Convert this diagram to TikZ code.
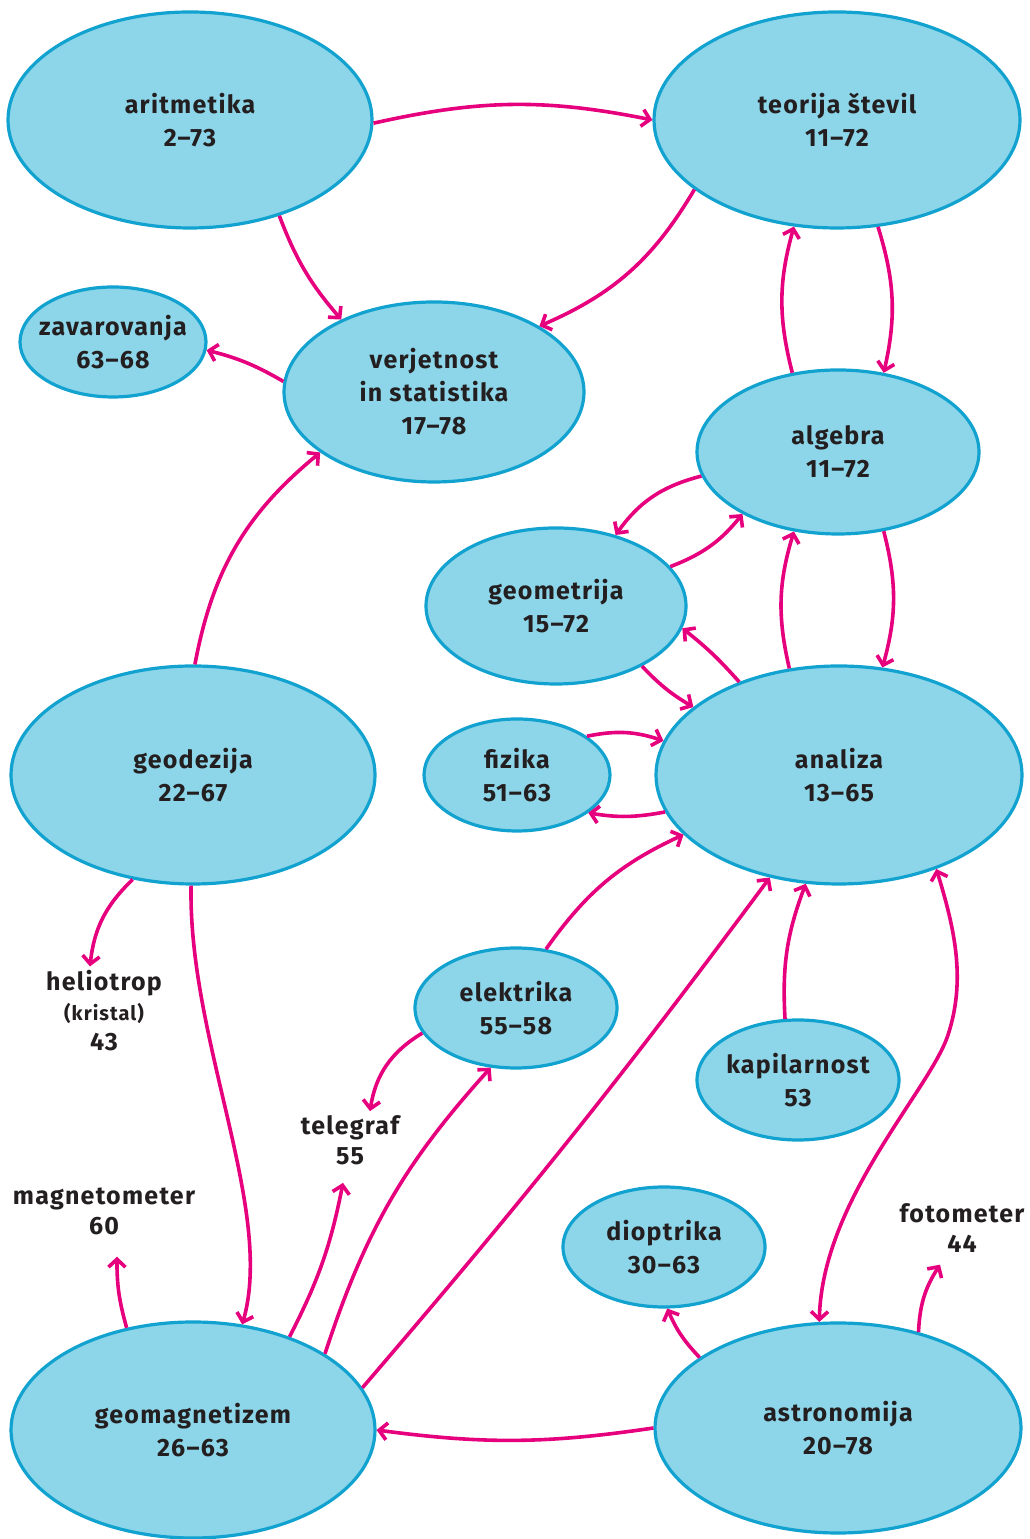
\documentclass[tikz,border=0pt]{standalone}
\usepackage{fontspec}
\setmainfont{Fira Sans}[LetterSpace=5]
\usetikzlibrary{arrows.meta,shapes.geometric}
\definecolor{fillc}{RGB}{141,213,232}
\definecolor{linec}{RGB}{18,162,208}
\definecolor{arr}{RGB}{230,0,126}
\definecolor{txt}{RGB}{35,31,32}
\begin{document}
\begin{tikzpicture}[x=1pt,y=1pt,
 topic/.style={ellipse,draw=linec,fill=fillc,line width=3.2pt,inner sep=-15pt,align=center,text=txt,font=\bfseries\fontsize{25}{33}\selectfont},
 plain/.style={align=center,text=txt,font=\bfseries\fontsize{25}{30}\selectfont,inner sep=2pt},
 barb/.tip={Straight Barb[length=8pt,width=17pt]},
 link/.style={draw=arr,line width=3.6pt,-barb}]
\useasboundingbox (0,0) rectangle (1030,1539);
\node[topic,minimum width=364pt,minimum height=216pt] (ar) at (190,1419) {aritmetika\\2–73};
\node[topic,minimum width=366pt,minimum height=216pt] (te) at (837,1419) {teorija števil\\11–72};
\node[topic,minimum width=186pt,minimum height=110pt] (za) at (113,1197) {zavarovanja\\63–68};
\node[topic,minimum width=300pt,minimum height=180pt] (ve) at (434,1147) {verjetnost\\in statistika\\17–78};
\node[topic,minimum width=282pt,minimum height=164pt] (al) at (838,1087) {algebra\\11–72};
\node[topic,minimum width=260pt,minimum height=156pt] (ge) at (556,933) {geometrija\\15–72};
\node[topic,minimum width=364pt,minimum height=218pt] (gd) at (193,764) {geodezija\\22–67};
\node[topic,minimum width=186pt,minimum height=112pt] (fi) at (517,764) {fizika\\51–63};
\node[topic,minimum width=366pt,minimum height=218pt] (an) at (839,764) {analiza\\13–65};
\node[topic,minimum width=202pt,minimum height=120pt] (el) at (516,531) {elektrika\\55–58};
\node[topic,minimum width=202pt,minimum height=120pt] (ka) at (798,459) {kapilarnost\\53};
\node[topic,minimum width=202pt,minimum height=120pt] (di) at (664,292) {dioptrika\\30–63};
\node[topic,minimum width=364pt,minimum height=216pt] (gm) at (193,109) {geomagnetizem\\26–63};
\node[topic,minimum width=366pt,minimum height=210pt] (as) at (838,111) {astronomija\\20–78};
\node[plain] (he) at (104,528) {heliotrop\\{\fontsize{20}{30}\selectfont (kristal)}\\43};
\node[plain] (tg) at (350,399) {telegraf\\55};
\node[plain] (mg) at (104,328) {magnetometer\\60};
\node[plain] (fo) at (962,311) {fotometer\\44};
% connectors
\draw[link] (ar.-1) to[bend left=12] (te.180);
\draw[link] (ar.-47) to[bend right=10] (ve.142);
\draw[link] (te.206) to[bend left=18] (ve.32);
\draw[link] (ve.176) to[bend right=8] (za.-5);
\draw[link] (al.120) to[bend left=15] (te.248);
\draw[link] (te.-69) to[bend left=15] (al.60);
\draw[link] (al.190) to[bend right=20] (ge.50);
\draw[link] (ge.19) to[bend right=15] (al.213);
\draw[link] (an.115) to[bend left=15] (al.241);
\draw[link] (al.-60) to[bend left=15] (an.68);
\draw[link] (an.137) to[bend right=5] (ge.-10);
\draw[link] (ge.-35) to[bend right=8] (an.155);
\draw[link] (fi.29) to[bend left=15] (an.169);
\draw[link] (an.192) to[bend left=10] (fi.-28);
\draw[link] (el.63) to[bend left=15] (an.201);
\draw[link] (ka.102) to[bend left=12] (an.253);
\draw[link,barb-barb] (an.-44) .. controls (955,609) and (966,559) .. (948,504)
  .. controls (930,449) and (822,339) .. (as.100);
\draw[link] (gd.89) to[bend left=20] (ve.208);
\draw[link] (gd.240) to[bend right=20] ([xshift=-14pt,yshift=2pt]he.north);
\draw[link] (gd.269) .. controls (188,499) and (275,329) .. (gm.65);
\draw[link] (el.195) to[bend right=25] ([xshift=20pt,yshift=2pt]tg.north);
\draw[link] (gm.44) to[bend right=8] ([xshift=-7pt,yshift=-16pt]tg.south);
\draw[link] (gm.30) to[bend left=12] (el.247);
\draw[link] (gm.14) to[bend right=2] (an.236);
\draw[link] (gm.123) to[bend left=8] ([xshift=13pt,yshift=-20pt]mg.south);
\draw[link] (as.180) to[bend left=8] (gm.0);
\draw[link] (as.153) to[bend left=10] (di.-87);
\draw[link] (as.50) to[bend left=15] ([xshift=-22pt,yshift=-10pt]fo.south);
\end{tikzpicture}
\end{document}
